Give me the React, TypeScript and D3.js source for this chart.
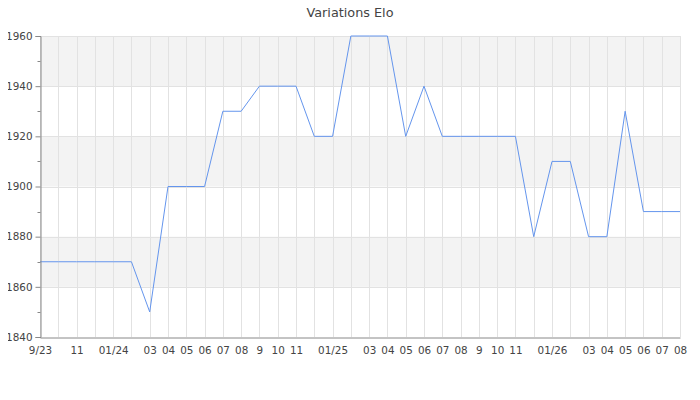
import * as d3 from "d3";
import React from "react";
import { useEffect, useRef } from "react";

// one point per month, Sep 2023 -> Aug 2026
const months = [
    "9/23", "10", "11", "12", "01/24", "02", "03", "04", "05", "06", "07", "08",
    "9", "10", "11", "12", "01/25", "02", "03", "04", "05", "06", "07", "08",
    "9", "10", "11", "12", "01/26", "02", "03", "04", "05", "06", "07", "08",
];

// labels the original chart drops because they would overlap
const hiddenLabels = [1, 3, 5, 15, 17, 27, 29];

const elo = [
    1870, 1870, 1870, 1870, 1870, 1870, 1850, 1900, 1900, 1900, 1930, 1930,
    1940, 1940, 1940, 1920, 1920, 1960, 1960, 1960, 1920, 1940, 1920, 1920,
    1920, 1920, 1920, 1880, 1910, 1910, 1880, 1880, 1930, 1890, 1890, 1890,
];

const yTicks = [1840, 1860, 1880, 1900, 1920, 1940, 1960];
const yMinorTicks = [1850, 1870, 1890, 1910, 1930, 1950];
const bands = [[1860, 1880], [1900, 1920], [1940, 1960]];

const EloChart = () => {
    const chartArea = useRef(null);
    const margin = { top: 36, right: 20, bottom: 63, left: 40 },
        width = 700 - margin.left - margin.right,
        height = 400 - margin.top - margin.bottom;

    useEffect(() => {
        createChart();
    }, []);

    const createChart = () => {
        const root = d3.select(chartArea.current);
        root.selectAll("*").remove();

        root.append("text")
            .attr("x", 350)
            .attr("y", 12.5)
            .attr("text-anchor", "middle")
            .attr("dominant-baseline", "central")
            .attr("font-family", "DejaVu Sans")
            .attr("font-size", "12.8px")
            .attr("fill", "#444")
            .text("Variations Elo");

        const svg = root.append("g")
            .attr("transform", "translate(" + margin.left + "," + margin.top + ")");

        const x = d3.scalePoint<number>()
            .domain(d3.range(months.length))
            .range([0, width]);

        const y = d3.scaleLinear()
            .domain([1840, 1960])
            .range([height, 0]);

        svg.selectAll("rect.band")
            .data(bands)
            .enter()
            .append("rect")
            .attr("x", 0)
            .attr("y", (d) => y(d[1]))
            .attr("width", width)
            .attr("height", (d) => y(d[0]) - y(d[1]))
            .style("fill", "#f3f3f3");

        // vertical grid, one per month
        svg.selectAll("line.vgrid")
            .data(d3.range(months.length))
            .enter()
            .append("line")
            .attr("x1", (d) => Math.round(x(d)!) + 0.5)
            .attr("x2", (d) => Math.round(x(d)!) + 0.5)
            .attr("y1", 0)
            .attr("y2", height)
            .style("stroke", "#e2e2e2");

        svg.selectAll("line.hgrid")
            .data(yTicks.slice(1))
            .enter()
            .append("line")
            .attr("x1", 0)
            .attr("x2", width)
            .attr("y1", (d) => Math.round(y(d)) + 0.5)
            .attr("y2", (d) => Math.round(y(d)) + 0.5)
            .style("stroke", "#e2e2e2");

        const line = d3.line<number>()
            .x((d, i) => x(i)!)
            .y((d) => y(d));

        svg.append("path")
            .datum(elo)
            .attr("d", line)
            .style("fill", "none")
            .style("stroke", "#6495ed")
            .style("stroke-width", 1);

        // y axis
        const yAxis = svg.append("g")
            .attr("transform", "translate(0.5,0)")
            .call(d3.axisLeft(y).tickValues(yTicks).tickSize(5).tickPadding(3).tickFormat(d3.format("d")));
        yAxis.selectAll(".tick text")
            .attr("font-family", "DejaVu Sans")
            .attr("font-size", "10.4px")
            .attr("fill", "#444");
        yAxis.selectAll("line, path").attr("stroke", "#888");

        svg.selectAll("line.minor")
            .data(yMinorTicks)
            .enter()
            .append("line")
            .attr("x1", -2.5)
            .attr("x2", 0.5)
            .attr("y1", (d) => Math.round(y(d)) + 0.5)
            .attr("y2", (d) => Math.round(y(d)) + 0.5)
            .style("stroke", "#888");

        // x axis
        const xAxis = svg.append("g")
            .attr("transform", "translate(0," + (height + 0.5) + ")")
            .call(d3.axisBottom(x).tickSize(0).tickPadding(9)
                .tickFormat((i) => hiddenLabels.includes(i) ? "" : months[i]));
        xAxis.selectAll(".tick text")
            .attr("font-family", "DejaVu Sans")
            .attr("font-size", "10.4px")
            .attr("fill", "#444");
        xAxis.select("path").attr("stroke", "#888");
    };

    return <svg ref={chartArea} width={700} height={400} style={{ display: "block" }} />;
};

export default function App() {
    return (
        <div style={{ margin: -8 }}>
            <EloChart />
        </div>
    );
}
